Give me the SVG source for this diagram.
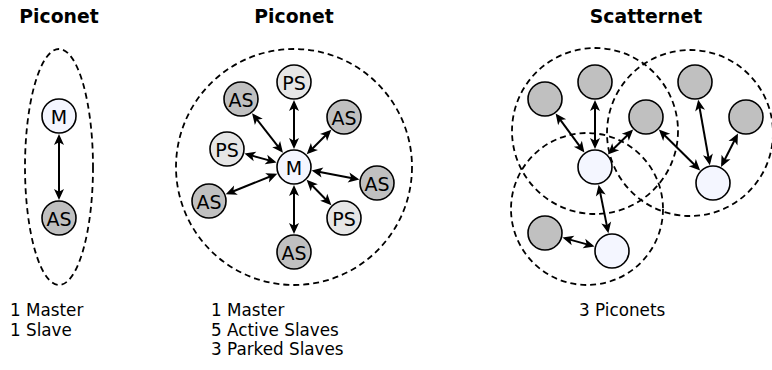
<svg xmlns="http://www.w3.org/2000/svg" width="772" height="370" viewBox="0 0 772 370">
<style>
.title{font-family:"DejaVu Sans",sans-serif;font-weight:bold;font-size:18.8px;fill:#000;text-anchor:middle}
.cap{font-family:"DejaVu Sans",sans-serif;font-size:16.8px;fill:#000}
.lbl{font-family:"DejaVu Sans",sans-serif;font-size:19px;fill:#000;text-anchor:middle;dominant-baseline:central}
.net{fill:none;stroke:#000;stroke-width:1.8;stroke-dasharray:6,4}
.m{fill:#f4f6ff;stroke:#000;stroke-width:1.6}
.as{fill:#c0c0c0;stroke:#000;stroke-width:1.6}
.ps{fill:#e6e6e6;stroke:#000;stroke-width:1.6}
.link{stroke:#000;stroke-width:2;fill:none;marker-start:url(#ah);marker-end:url(#ah)}
</style>
<defs>
<marker id="ah" markerUnits="userSpaceOnUse" markerWidth="11" markerHeight="11" refX="8" refY="0" orient="auto-start-reverse" overflow="visible">
<path d="M11,0 L0,-5 L2.8,0 L0,5 z" fill="#000"/>
</marker>
</defs>
<rect width="772" height="370" fill="#fff"/>
<g id="titles">
<text class="title" x="59" y="23">Piconet</text>
<text class="title" x="294" y="23">Piconet</text>
<text class="title" x="646" y="23">Scatternet</text>
</g>
<g id="networks">
<ellipse class="net" cx="59" cy="167" rx="34" ry="118"/>
<circle class="net" cx="294" cy="167" r="118"/>
<circle class="net" cx="595" cy="131" r="83"/>
<circle class="net" cx="690" cy="133" r="83"/>
<circle class="net" cx="587" cy="209" r="76"/>
</g>
<g id="connectors">
<line class="link" x1="59" y1="137" x2="59" y2="197"/>
<line class="link" x1="294" y1="146" x2="294" y2="103"/>
<line class="link" x1="281.1" y1="150.4" x2="253.9" y2="115.6"/>
<line class="link" x1="308.8" y1="152.2" x2="329.2" y2="131.8"/>
<line class="link" x1="273.7" y1="161.6" x2="247.3" y2="154.4"/>
<line class="link" x1="314.6" y1="171" x2="356.4" y2="179"/>
<line class="link" x1="274.5" y1="174.8" x2="228.5" y2="193.2"/>
<line class="link" x1="308.7" y1="182" x2="329.3" y2="203"/>
<line class="link" x1="294" y1="188" x2="294" y2="231"/>
<line class="link" x1="582.6" y1="150.1" x2="557.4" y2="115.9"/>
<line class="link" x1="595" y1="146" x2="595" y2="103"/>
<line class="link" x1="610" y1="152.3" x2="631" y2="131.7"/>
<line class="link" x1="599.2" y1="187.6" x2="607.8" y2="230.4"/>
<line class="link" x1="661" y1="131.7" x2="698" y2="168.3"/>
<line class="link" x1="709.3" y1="162.3" x2="698.7" y2="102.7"/>
<line class="link" x1="722.4" y1="164.2" x2="736.6" y2="136.2"/>
<line class="link" x1="565.3" y1="238.4" x2="591.7" y2="245.6"/>
</g>
<g id="n1-m"><circle class="m" cx="59" cy="116" r="17"/><text class="lbl" x="59" y="117">M</text></g>
<g id="n1-as"><circle class="as" cx="59" cy="218" r="17"/><text class="lbl" x="59" y="219">AS</text></g>
<g id="n2-m"><circle class="m" cx="294" cy="167" r="17"/><text class="lbl" x="294" y="168">M</text></g>
<g id="n2-ps-top"><circle class="ps" cx="294" cy="82" r="17"/><text class="lbl" x="294" y="83">PS</text></g>
<g id="n2-as-ul"><circle class="as" cx="241" cy="99" r="17"/><text class="lbl" x="241" y="100">AS</text></g>
<g id="n2-as-ur"><circle class="as" cx="344" cy="117" r="17"/><text class="lbl" x="344" y="118">AS</text></g>
<g id="n2-ps-l"><circle class="ps" cx="227" cy="149" r="17"/><text class="lbl" x="227" y="150">PS</text></g>
<g id="n2-as-r"><circle class="as" cx="377" cy="183" r="17"/><text class="lbl" x="377" y="184">AS</text></g>
<g id="n2-as-ll"><circle class="as" cx="209" cy="201" r="17"/><text class="lbl" x="209" y="202">AS</text></g>
<g id="n2-ps-lr"><circle class="ps" cx="344" cy="218" r="17"/><text class="lbl" x="344" y="219">PS</text></g>
<g id="n2-as-b"><circle class="as" cx="294" cy="252" r="17"/><text class="lbl" x="294" y="253">AS</text></g>
<g id="n3-g1"><circle class="as" cx="545" cy="99" r="17"/></g>
<g id="n3-g2"><circle class="as" cx="595" cy="82" r="17"/></g>
<g id="n3-g3"><circle class="as" cx="646" cy="117" r="17"/></g>
<g id="n3-g4"><circle class="as" cx="695" cy="82" r="17"/></g>
<g id="n3-g5"><circle class="as" cx="746" cy="117" r="17"/></g>
<g id="n3-w1"><circle class="m" cx="595" cy="167" r="17"/></g>
<g id="n3-w2"><circle class="m" cx="713" cy="183" r="17"/></g>
<g id="n3-g6"><circle class="as" cx="545" cy="233" r="17"/></g>
<g id="n3-w3"><circle class="m" cx="612" cy="251" r="17"/></g>
<g id="captions">
<text class="cap" x="10" y="316">1 Master</text>
<text class="cap" x="10" y="335.6">1 Slave</text>
<text class="cap" x="211" y="316">1 Master</text>
<text class="cap" x="211" y="335.6">5 Active Slaves</text>
<text class="cap" x="211" y="355.2">3 Parked Slaves</text>
<text class="cap" x="579" y="316">3 Piconets</text>
</g>
</svg>
